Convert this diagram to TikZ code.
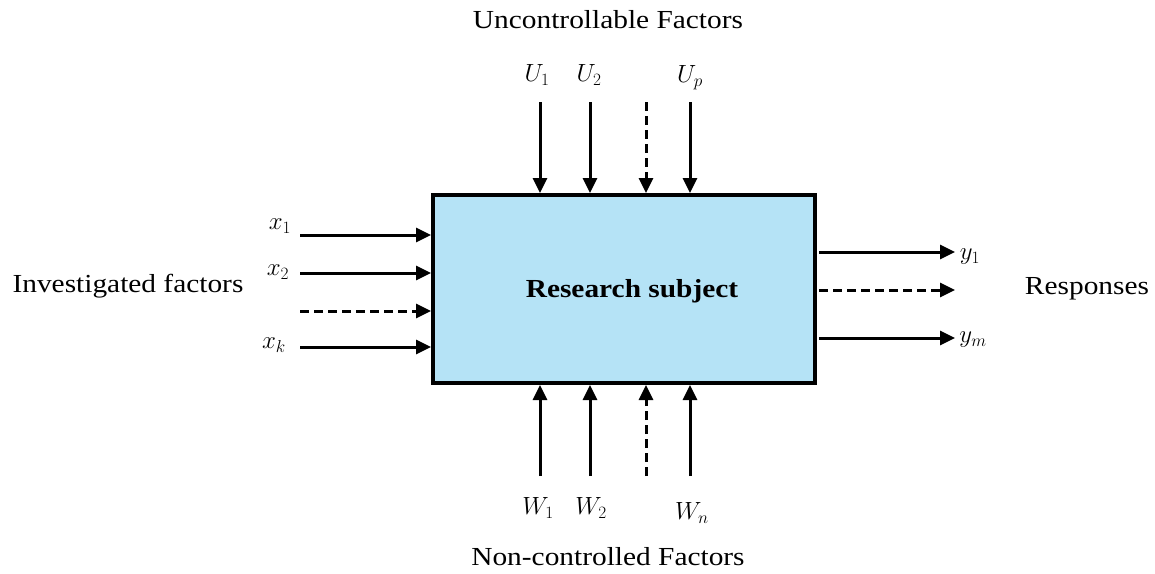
\documentclass[tikz,border=0pt]{standalone}
\usepackage{fontspec}
\setmainfont{Liberation Serif}[FakeStretch=1.13]
\usetikzlibrary{arrows.meta}
\definecolor{boxblue}{HTML}{B5E3F6}
\begin{document}
\begin{tikzpicture}[x=1pt,y=-1pt,
  txt/.style={font=\fontsize{26}{30}\selectfont, inner sep=0pt},
  lab/.style={font=\fontsize{27}{31}\selectfont, inner sep=0pt},
  arr/.style={line width=3pt, -{Triangle[length=15pt,width=14pt]}},
  darr/.style={arr, dash pattern=on 9pt off 5pt}]
\useasboundingbox (0,0) rectangle (1155,573);
\node[draw, line width=4pt, fill=boxblue, minimum width=382pt, minimum height=188pt, inner sep=0pt] (box) at (624,289) {};
\node[font=\bfseries\fontsize{26}{30}\selectfont] (title) at (632,291) {Research subject};
% texts
\node[txt] (unc) at (608,20) {Uncontrollable Factors};
\node[txt] (non) at (608,557) {Non-controlled Factors};
\node[txt] (inv) at (128,286) {Investigated factors};
\node[txt] (resp) at (1087,289) {Responses};
% top
\coordinate (u1s) at (540,102);
\coordinate (u2s) at (590,102);
\coordinate (uds) at (646,102);
\coordinate (ups) at (690,102);
\node[lab] (lu1) at (537,75) {$U_1$};
\node[lab] (lu2) at (589,75) {$U_2$};
\node[lab] (lup) at (690,78) {$U_p$};
\draw[arr] (u1s) -- (u1s |- box.north);
\draw[arr] (u2s) -- (u2s |- box.north);
\draw[darr] (uds) -- (uds |- box.north);
\draw[arr] (ups) -- (ups |- box.north);
% bottom
\coordinate (w1s) at (540,476);
\coordinate (w2s) at (590,476);
\coordinate (wds) at (646,476);
\coordinate (wns) at (690,476);
\node[lab] (lw1) at (538,508) {$W_1$};
\node[lab] (lw2) at (591,508) {$W_2$};
\node[lab] (lwn) at (692,513) {$W_n$};
\draw[arr] (w1s) -- (w1s |- box.south);
\draw[arr] (w2s) -- (w2s |- box.south);
\draw[darr] (wds) -- (wds |- box.south);
\draw[arr] (wns) -- (wns |- box.south);
% left
\coordinate (x1s) at (300,235);
\coordinate (x2s) at (300,273);
\coordinate (xds) at (300,311);
\coordinate (xks) at (300,347);
\node[lab] (lx1) at (280,226) {$x_1$};
\node[lab] (lx2) at (278,272) {$x_2$};
\node[lab] (lxk) at (274,345) {$x_k$};
\draw[arr] (x1s) -- (x1s -| box.west);
\draw[arr] (x2s) -- (x2s -| box.west);
\draw[darr] (xds) -- (xds -| box.west);
\draw[arr] (xks) -- (xks -| box.west);
% right
\coordinate (y1e) at (955,252);
\coordinate (yde) at (955,290);
\coordinate (yme) at (955,338);
\node[lab] (ly1) at (970,257) {$y_1$};
\node[lab] (lym) at (973,340) {$y_m$};
\draw[arr] (y1e -| box.east) ++(2,0) -- (y1e);
\draw[darr] (yde -| box.east) ++(2,0) -- (yde);
\draw[arr] (yme -| box.east) ++(2,0) -- (yme);
\end{tikzpicture}
\end{document}
